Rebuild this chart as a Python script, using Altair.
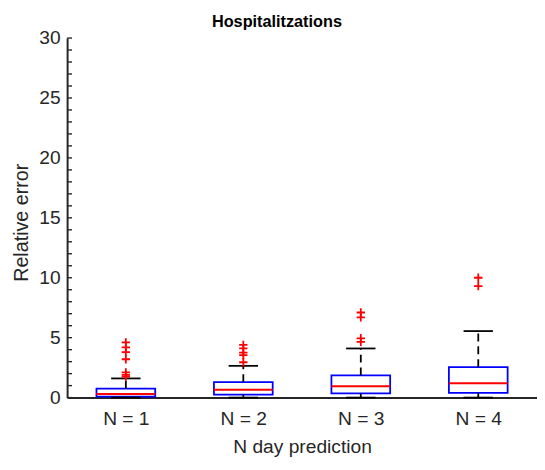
import altair as alt
import pandas as pd

# ---- data ----
title_text = "Hospitalitzations"
categories = ["N = 1", "N = 2", "N = 3", "N = 4"]
positions = [1, 2, 3, 4]
lower_whisker = [0.0, 0.0, 0.0, 0.0]
q1 = [0.08, 0.25, 0.35, 0.4]
median = [0.3, 0.65, 0.95, 1.2]
q3 = [0.75, 1.3, 1.85, 2.55]
upper_whisker = [1.6, 2.65, 4.1, 5.55]
outliers = {
    1: [1.75, 1.9, 2.1, 3.2, 3.8, 4.2, 4.6],
    2: [2.95, 3.55, 3.75, 4.1, 4.4],
    3: [4.65, 4.95, 6.7, 7.1],
    4: [9.3, 10.0],
}
y_major = [0, 5, 10, 15, 20, 25, 30]
y_minor = list(range(0, 31))

box_half = 0.25
cap_half = 0.125

stats = pd.DataFrame({
    "cat": categories,
    "pos": positions,
    "lw": lower_whisker,
    "q1": q1,
    "med": median,
    "q3": q3,
    "uw": upper_whisker,
})
stats["left"] = stats["pos"] - box_half
stats["right"] = stats["pos"] + box_half
stats["cl"] = stats["pos"] - cap_half
stats["cr"] = stats["pos"] + cap_half

out_df = pd.DataFrame(
    [{"pos": p, "val": v} for p, vals in outliers.items() for v in vals]
)
ticks_df = pd.DataFrame({"t": y_minor})
title_df = pd.DataFrame({"txt": [title_text]})

FONT = "Liberation Sans"
TXT = "#262626"
FS = 19.5

xscale = alt.Scale(domain=[0.5, 4.5], nice=False, zero=False)
yscale = alt.Scale(domain=[0, 30], nice=False)

xaxis = alt.Axis(
    values=positions,
    labelExpr="'N = ' + datum.value",
    title="N day prediction",
    tickSize=0,
    labelPadding=12,
    grid=False,
    labelFontSize=FS,
    titleFontSize=FS,
    titleFontWeight="normal",
    titleY=55.7,
    titleBaseline="alphabetic",
    domainColor=TXT,
    domainWidth=2,
    labelColor=TXT,
    titleColor=TXT,
    labelFont=FONT,
    titleFont=FONT,
)
yaxis = alt.Axis(
    values=y_major,
    title="Relative error",
    tickSize=0,
    labelPadding=7,
    grid=False,
    labelFontSize=FS,
    titleFontSize=20,
    titleFontWeight="normal",
    titleX=-39.7,
    titleY=187,
    titleAlign="center",
    titleBaseline="alphabetic",
    domainColor=TXT,
    domainWidth=2,
    labelColor=TXT,
    titleColor=TXT,
    labelFont=FONT,
    titleFont=FONT,
)

base = alt.Chart(stats)

boxes = base.mark_rect(fill="white", fillOpacity=0, stroke="#0000FF", strokeWidth=1.8).encode(
    x=alt.X("left:Q", scale=xscale, axis=xaxis),
    x2="right:Q",
    y=alt.Y("q1:Q", scale=yscale, axis=yaxis),
    y2="q3:Q",
)

upper = base.mark_rule(color="black", strokeWidth=1.8, strokeDash=[8, 5]).encode(
    x=alt.X("pos:Q", scale=xscale), y=alt.Y("q3:Q", scale=yscale), y2="uw:Q"
)
lower = base.mark_rule(color="black", strokeWidth=1.8, strokeDash=[8, 5]).encode(
    x=alt.X("pos:Q", scale=xscale), y=alt.Y("lw:Q", scale=yscale), y2="q1:Q"
)
cap_up = base.mark_rule(color="black", strokeWidth=1.8).encode(
    x=alt.X("cl:Q", scale=xscale), x2="cr:Q", y=alt.Y("uw:Q", scale=yscale)
)
cap_lo = base.mark_rule(color="black", strokeWidth=1.8).encode(
    x=alt.X("cl:Q", scale=xscale), x2="cr:Q", y=alt.Y("lw:Q", scale=yscale)
)
med = base.mark_rule(color="#FF0000", strokeWidth=2).encode(
    x=alt.X("left:Q", scale=xscale), x2="right:Q", y=alt.Y("med:Q", scale=yscale)
)

pts = alt.Chart(out_df).mark_point(
    shape="M-1,0L1,0M0,-1L0,1", size=72, filled=False, color="#FF0000", strokeWidth=1.8, opacity=1
).encode(
    x=alt.X("pos:Q", scale=xscale), y=alt.Y("val:Q", scale=yscale)
)

yticks = alt.Chart(ticks_df).mark_rule(color=TXT, strokeWidth=1.4).encode(
    x=alt.value(0), x2=alt.value(5), y=alt.Y("t:Q", scale=yscale)
)

title = alt.Chart(title_df).mark_text(
    font=FONT, fontSize=16.5, fontWeight="bold", color="black",
    align="center", baseline="alphabetic",
).encode(
    x=alt.value(213), y=alt.value(-11.5), text="txt:N"
)

chart = alt.layer(boxes, upper, lower, cap_up, cap_lo, med, pts, yticks, title).properties(
    width=477,
    height=365,
    padding={"left": 60, "top": 27, "right": 0, "bottom": 70},
    autosize=alt.AutoSizeParams(type="none"),
).configure(background="white").configure_view(stroke=None)

chart.save("out.html", embed_options={"renderer": "svg", "actions": False})
